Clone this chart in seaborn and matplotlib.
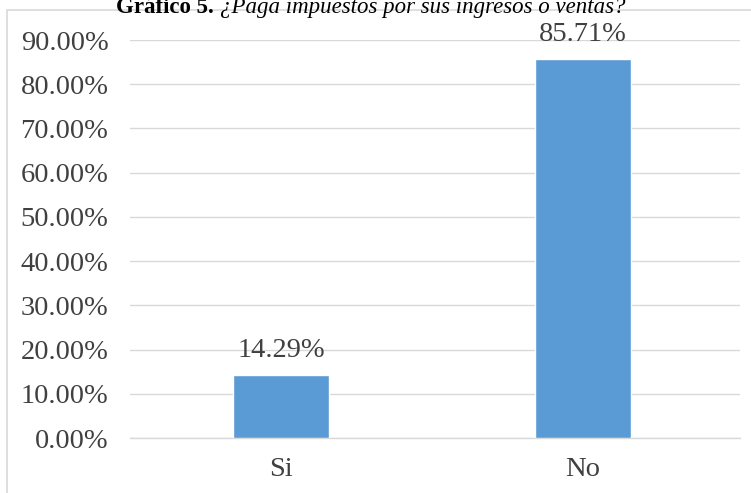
import matplotlib
matplotlib.use("Agg")
import matplotlib.pyplot as plt
import seaborn as sns
import pandas as pd
from matplotlib.patches import Rectangle

categories = ["Si", "No"]
values = [14.29, 85.71]
yticks = [0, 10, 20, 30, 40, 50, 60, 70, 80, 90]

sns.set_theme(style="white")
plt.rcParams['font.family'] = ['Liberation Serif', 'DejaVu Serif']

W, H = 751, 493
fig = plt.figure(figsize=(W / 100, H / 100), dpi=100)

# outer chart frame
fig.patches.append(Rectangle((7 / W, -0.05), 1.0, (H - 10) / H + 0.05,
                             transform=fig.transFigure, fill=False,
                             edgecolor="#d9d9d9", linewidth=1.2, zorder=0))

ax = fig.add_axes([130 / W, (H - 438) / H, (740 - 130) / W, (438 - 40) / H])
df = pd.DataFrame({"cat": categories, "val": values})
sns.barplot(data=df, x="cat", y="val", ax=ax, color="#5B9BD5",
            saturation=1, width=0.315, zorder=3)

ax.set_xlim(-0.5, -0.5 + 610 / 302)
ax.set_ylim(0, 90)
ax.set_yticks(yticks)
ax.set_yticklabels([f"{t:.2f}%" for t in yticks])
ax.yaxis.grid(True, color="#d9d9d9", linewidth=1.0, zorder=0)
ax.set_axisbelow(True)
for s in ["top", "right", "left"]:
    ax.spines[s].set_visible(False)
ax.spines["bottom"].set_color("#d9d9d9")
ax.spines["bottom"].set_linewidth(1.0)
ax.set_xlabel("")
ax.set_ylabel("")
ax.tick_params(axis="both", length=0, labelsize=20.5, colors="#404040")
ax.tick_params(axis="y", pad=15.5)
ax.tick_params(axis="x", pad=13.5)

for i, v in enumerate(values):
    ax.text(i, v + 2.6, f"{v:.2f}%", ha="center", va="bottom",
            fontsize=20.5, color="#404040", clip_on=False)

# title (partially cut at top, as in the source)
ty = 1 - 13 / H
t1 = fig.text(0.5, ty, "Gráfico 5. ", ha="right", va="baseline",
              fontsize=16.5, fontweight="bold", color="black")
t2 = fig.text(0.5, ty, "¿Paga impuestos por sus ingresos o ventas?", ha="left",
              va="baseline", fontsize=16.5, fontstyle="italic", color="black")
fig.canvas.draw()
r = fig.canvas.get_renderer()
w1 = t1.get_window_extent(r).width
w2 = t2.get_window_extent(r).width
cx = 371
start = cx - (w1 + w2) / 2
t1.set_position(((start + w1) / W, ty))
t2.set_position(((start + w1) / W, ty))

fig.savefig("out.png", dpi=100)
